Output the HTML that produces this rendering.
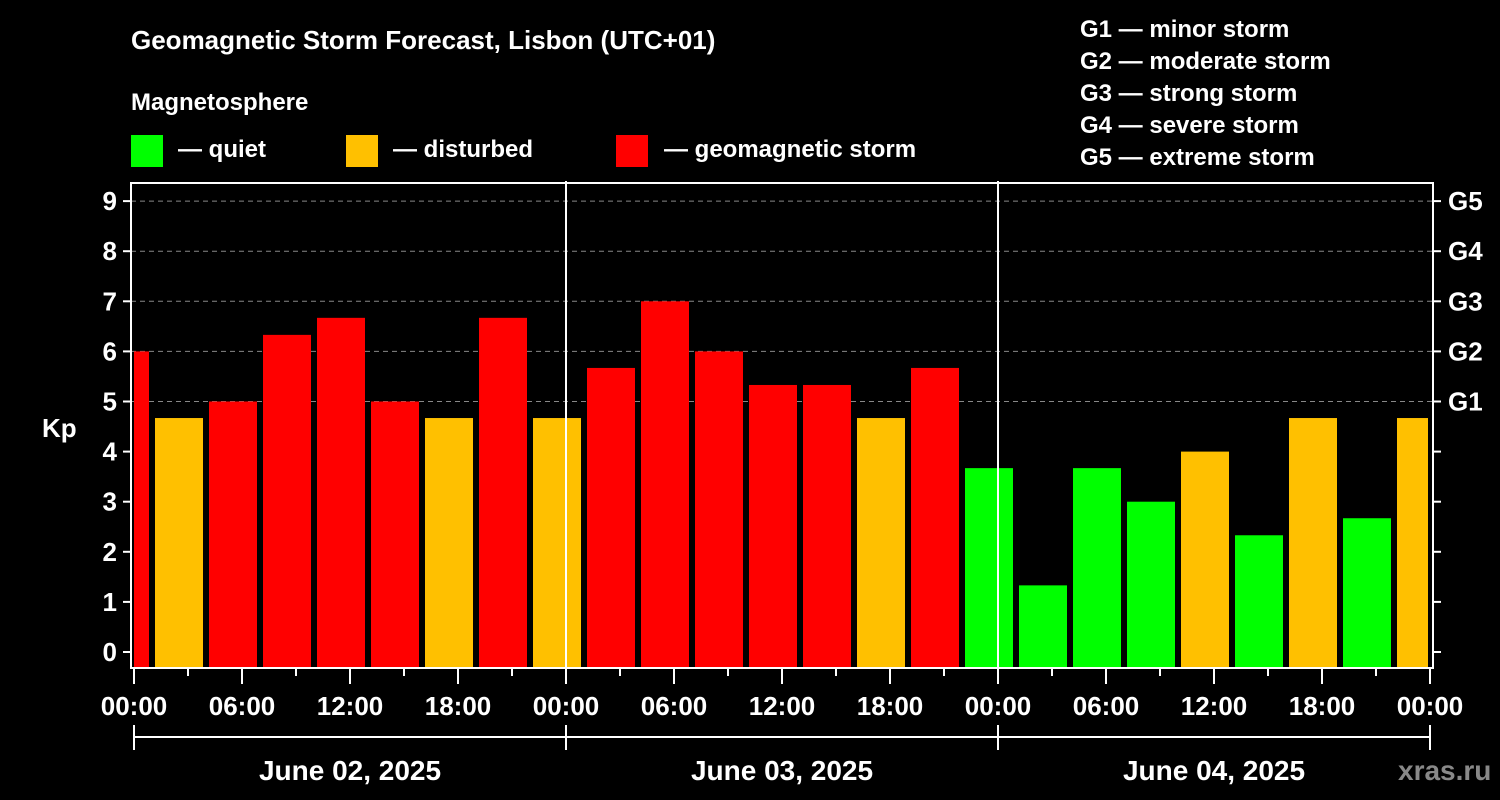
<!DOCTYPE html>
<html><head><meta charset="utf-8"><style>
html,body{margin:0;padding:0;background:#000;width:1500px;height:800px;overflow:hidden}
svg{display:block;font-family:"Liberation Sans",sans-serif;font-weight:bold}
</style></head><body>
<svg id="chart" width="1500" height="800" viewBox="0 0 1500 800">
<rect width="1500" height="800" fill="#000"/>
<text x="131" y="49" fill="#fff" font-size="26">Geomagnetic Storm Forecast, Lisbon (UTC+01)</text>
<text x="131" y="110" fill="#fff" font-size="24">Magnetosphere</text>
<g><rect x="131" y="135" width="32" height="32" fill="#00ff00"/><text x="178" y="157" fill="#fff" font-size="24">— quiet</text></g>
<g><rect x="346" y="135" width="32" height="32" fill="#ffc000"/><text x="393" y="157" fill="#fff" font-size="24">— disturbed</text></g>
<g><rect x="616" y="135" width="32" height="32" fill="#ff0000"/><text x="664" y="157" fill="#fff" font-size="24">— geomagnetic storm</text></g>
<g fill="#fff" font-size="24">
<text x="1080" y="37">G1 — minor storm</text>
<text x="1080" y="69">G2 — moderate storm</text>
<text x="1080" y="101">G3 — strong storm</text>
<text x="1080" y="133">G4 — severe storm</text>
<text x="1080" y="165">G5 — extreme storm</text>
</g>
<text x="42" y="437" fill="#fff" font-size="26">Kp</text>
<text x="1398" y="780" fill="#888" font-size="28">xras.ru</text>
<g id="grid"></g>
<g id="bars"></g>
<g id="axes"></g>
</svg>
<script>
const kpValues=[6,4.67,5,6.33,6.67,5,4.67,6.67,4.67,5.67,7,6,5.33,5.33,4.67,5.67,3.67,1.33,3.67,3,4,2.33,4.67,2.67,4.67];
const barCenterHours=[-0.5,2.5,5.5,8.5,11.5,14.5,17.5,20.5,23.5,26.5,29.5,32.5,35.5,38.5,41.5,44.5,47.5,50.5,53.5,56.5,59.5,62.5,65.5,68.5,71.5];
const yTicks=[0,1,2,3,4,5,6,7,8,9];
const gLabels=["G1","G2","G3","G4","G5"];
const xTickLabels=["00:00","06:00","12:00","18:00","00:00","06:00","12:00","18:00","00:00","06:00","12:00","18:00","00:00"];
const dayLabels=["June 02, 2025","June 03, 2025","June 04, 2025"];
const NS="http://www.w3.org/2000/svg";
const L=131,R=1433,T=183,B=668;
const x=h=>134+h*18;
const y=v=>652-v*50.1;
function mk(tag,attrs,parent){const e=document.createElementNS(NS,tag);for(const k in attrs)e.setAttribute(k,attrs[k]);parent.appendChild(e);return e;}
const grid=document.getElementById('grid'),bars=document.getElementById('bars'),axes=document.getElementById('axes');
yTicks.forEach(v=>{if(v>=5){const g=mk('line',{x1:L,x2:R,y1:y(v),y2:y(v),stroke:'#888','stroke-dasharray':'5,4','stroke-width':1},grid);

}});
kpValues.forEach((v,i)=>{const c=barCenterHours[i];let x0=x(c-1.5)+3,x1=x(c+1.5)-3;x0=Math.max(x0,L+3);x1=Math.min(x1,R-5);
const col=v<4?'#00ff00':(v<5?'#ffc000':'#ff0000');
const r=mk('rect',{x:x0,y:y(v),width:x1-x0,height:B-y(v),fill:col},bars);

});
const frame=mk('rect',{x:L,y:T,width:R-L,height:B-T,fill:'none',stroke:'#fff','stroke-width':2},axes);


[24,48].forEach(h=>{const d=mk('line',{x1:x(h),x2:x(h),y1:T-2,y2:B,stroke:'#fff','stroke-width':2},axes);

});
yTicks.forEach(v=>{mk('line',{x1:L-8,x2:L,y1:y(v),y2:y(v),stroke:'#fff','stroke-width':2},axes);
mk('line',{x1:R,x2:R+8,y1:y(v),y2:y(v),stroke:'#fff','stroke-width':2},axes);
const t=mk('text',{x:L-14,y:y(v)+9,fill:'#fff','font-size':26,'text-anchor':'end'},axes);t.textContent=v;

});
gLabels.forEach((g,i)=>{const t=mk('text',{x:R+15,y:y(i+5)+9,fill:'#fff','font-size':26},axes);t.textContent=g;

});
for(let h=0;h<=72;h+=3){const major=h%6===0;mk('line',{x1:x(h),x2:x(h),y1:B,y2:B+(major?16:8),stroke:'#fff','stroke-width':2},axes);}
xTickLabels.forEach((s,i)=>{const t=mk('text',{x:x(i*6),y:715,fill:'#fff','font-size':26,'text-anchor':'middle'},axes);t.textContent=s;

});
mk('line',{x1:x(0),x2:x(72),y1:737,y2:737,stroke:'#fff','stroke-width':2},axes);
[0,24,48,72].forEach(h=>mk('line',{x1:x(h),x2:x(h),y1:725,y2:750,stroke:'#fff','stroke-width':2},axes));
dayLabels.forEach((s,i)=>{const t=mk('text',{x:x(i*24+12),y:780,fill:'#fff','font-size':28,'text-anchor':'middle'},axes);t.textContent=s;

});
</script>
</body></html>
